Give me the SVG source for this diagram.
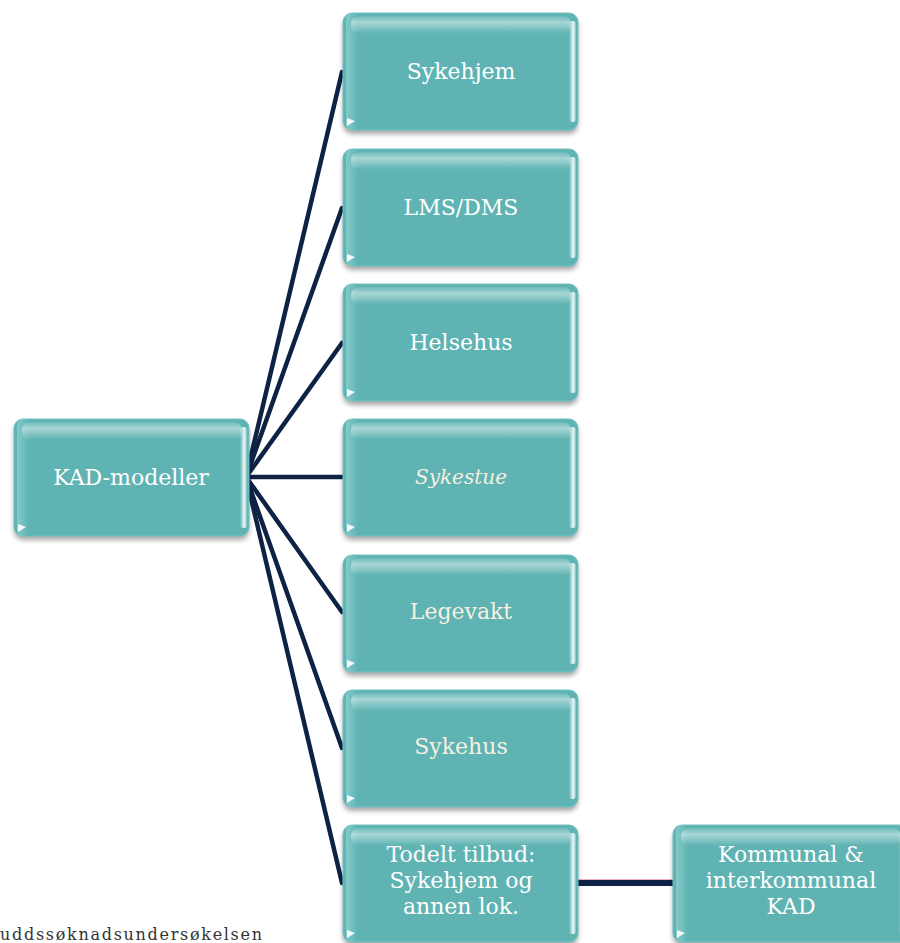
<svg xmlns="http://www.w3.org/2000/svg" width="900" height="943" viewBox="0 0 900 943">
<defs>
<filter id="sh" x="-10%" y="-10%" width="120%" height="130%">
<feGaussianBlur in="SourceAlpha" stdDeviation="2.5"/>
<feOffset dx="0" dy="4" result="b"/>
<feComponentTransfer><feFuncA type="linear" slope="0.35"/></feComponentTransfer>
<feMerge><feMergeNode/><feMergeNode in="SourceGraphic"/></feMerge>
</filter>
<linearGradient id="top" x1="0" y1="0" x2="0" y2="1">
<stop offset="0" stop-color="#ffffff" stop-opacity="0.1"/>
<stop offset="0.35" stop-color="#ffffff" stop-opacity="0.45"/>
<stop offset="1" stop-color="#ffffff" stop-opacity="0"/>
</linearGradient>
<linearGradient id="right" x1="0" y1="0" x2="1" y2="0">
<stop offset="0" stop-color="#ffffff" stop-opacity="0"/>
<stop offset="0.6" stop-color="#ffffff" stop-opacity="0.9"/>
<stop offset="1" stop-color="#ffffff" stop-opacity="0.2"/>
</linearGradient>
<linearGradient id="left" x1="0" y1="0" x2="1" y2="0">
<stop offset="0" stop-color="#8fd0d0" stop-opacity="0.8"/>
<stop offset="1" stop-color="#8fd0d0" stop-opacity="0"/>
</linearGradient>
<g id="box">
<rect x="0" y="0" width="235" height="117" rx="9" fill="#5fb3b3" filter="url(#sh)"/>
<rect x="0" y="0" width="235" height="117" rx="9" fill="none" stroke="#72c2c2" stroke-width="1"/>
<rect x="3" y="0" width="12" height="117" rx="6" fill="url(#left)"/>
<rect x="8" y="3" width="220" height="18" rx="8" fill="url(#top)"/>
<rect x="226" y="8" width="7" height="101" rx="3" fill="url(#right)"/>
<path d="M4 113 L4 105 L12 108 Z" fill="#ffffff" opacity="0.9"/>
</g>
</defs>
<style>
.t{font-family:"DejaVu Serif","Liberation Serif",serif;font-size:22px;fill:#ffffff;text-anchor:middle}
.c{fill:none;stroke:#0d2245;stroke-width:4.5;stroke-linecap:round}
.cap{font-family:"DejaVu Serif","Liberation Serif",serif;font-size:16px;fill:#333333}
</style>
<g id="connectors">
<path class="c" d="M246 477 L342 72"/>
<path class="c" d="M246 477 L342 208"/>
<path class="c" d="M246 477 L342 343"/>
<path class="c" d="M246 477 L342 477"/>
<path class="c" d="M246 477 L342 612"/>
<path class="c" d="M246 477 L342 748"/>
<path class="c" d="M246 477 L342 883"/>
<path d="M578 883 L674 883" fill="none" stroke="#0d2245" stroke-width="6"/>
<path d="M578 879.5 L674 879.5" fill="none" stroke="#e07b8a" stroke-width="1" opacity="0.6"/>
</g>
<g id="n-kad"><use href="#box" x="14" y="419"/><text class="t" x="131" y="485">KAD-modeller</text></g>
<g id="n-sykehjem"><use href="#box" x="343" y="13"/><text class="t" x="461" y="79">Sykehjem</text></g>
<g id="n-lms"><use href="#box" x="343" y="149"/><text class="t" x="461" y="215">LMS/DMS</text></g>
<g id="n-helsehus"><use href="#box" x="343" y="284"/><text class="t" x="461" y="350">Helsehus</text></g>
<g id="n-sykestue"><use href="#box" x="343" y="419"/><text class="t" x="461" y="484" style="font-style:italic;fill:#f6f0e0;font-size:20px">Sykestue</text></g>
<g id="n-legevakt"><use href="#box" x="343" y="555"/><text class="t" x="461" y="619" style="fill:#f6f0e0">Legevakt</text></g>
<g id="n-sykehus"><use href="#box" x="343" y="690"/><text class="t" x="461" y="754" style="fill:#f6f0e0">Sykehus</text></g>
<g id="n-todelt"><use href="#box" x="343" y="825"/><text class="t" x="461" y="862">Todelt tilbud:</text><text class="t" x="461" y="888">Sykehjem og</text><text class="t" x="461" y="914">annen lok.</text></g>
<g id="n-kommunal"><use href="#box" x="673" y="825"/><text class="t" x="791" y="862">Kommunal &amp;</text><text class="t" x="791" y="888">interkommunal</text><text class="t" x="791" y="914">KAD</text></g>
<text class="cap" x="0" y="940" textLength="262" lengthAdjust="spacing">uddssøknadsundersøkelsen</text>
</svg>
